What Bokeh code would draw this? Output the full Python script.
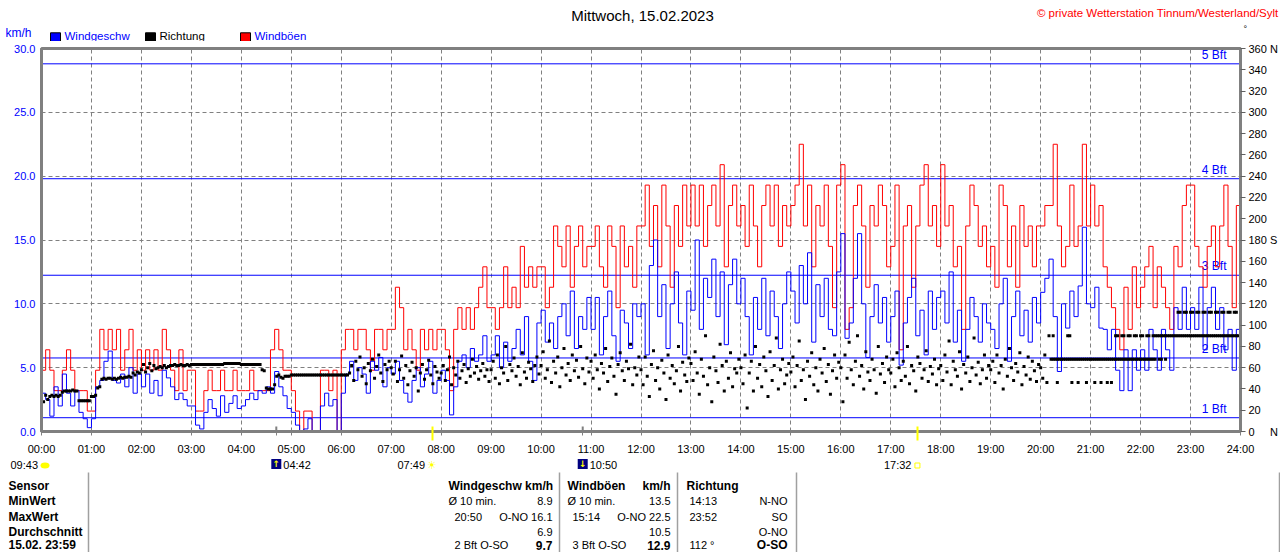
import numpy as np
from bokeh.plotting import figure
from bokeh.layouts import column
from bokeh.models import Range1d, LinearAxis, FixedTicker, Span, Label, NumeralTickFormatter
from bokeh.core.properties import value
from bokeh.embed import file_html
from bokeh.resources import INLINE

# ---------------- data ----------------
title_text = "Mittwoch, 15.02.2023"
copyright_text = "\u00a9 private Wetterstation Tinnum/Westerland/Sylt"

# wind speed (km/h), 5-minute samples, one row per hour 00..23
wind = [
    [3.0, 2.5, 1.2, 3.5, 2.0, 4.5, 3.0, 2.0, 3.2, 1.5, 1.0, 0.3],
    [1.0, 3.5, 4.0, 5.5, 6.3, 4.0, 3.8, 4.5, 3.5, 5.0, 3.0, 4.5],
    [3.5, 4.5, 3.0, 4.0, 2.8, 4.8, 4.2, 3.5, 2.5, 3.0, 2.5, 2.0],
    [2.0, 0.5, 0.2, 1.5, 2.5, 1.8, 1.2, 2.8, 1.5, 2.2, 2.8, 1.8],
    [2.0, 2.5, 3.0, 2.5, 3.2, 3.0, 3.5, 3.0, 4.7, 3.5, 2.8, 1.8],
    [1.5, 0.5, 0.0, 0.2, 1.0, 0.0, 0.0, 2.0, 3.0, 2.0, 2.5, 0.0],
    [3.0, 4.5, 5.5, 4.0, 5.0, 4.5, 3.0, 5.5, 4.8, 5.8, 3.5, 5.0],
    [4.5, 5.5, 4.0, 3.0, 2.3, 4.0, 5.0, 3.5, 4.5, 5.5, 3.0, 4.0],
    [4.8, 4.0, 1.3, 3.5, 5.5, 6.0, 5.0, 6.5, 5.5, 6.0, 7.5, 5.5],
    [6.0, 7.5, 5.0, 7.0, 5.5, 6.5, 8.0, 6.0, 9.0, 5.5, 4.0, 8.5],
    [9.5, 7.0, 8.5, 6.5, 9.0, 10.0, 7.5, 11.0, 6.5, 9.0, 8.0, 10.5],
    [8.0, 10.5, 6.0, 9.0, 11.0, 7.5, 5.5, 9.5, 8.5, 6.5, 10.0, 9.0],
    [10.0, 6.0, 13.0, 15.0, 9.0, 11.5, 6.5, 10.0, 12.5, 8.5, 6.0, 11.0],
    [9.5, 15.0, 8.0, 12.0, 10.5, 13.5, 9.0, 12.5, 6.8, 11.5, 13.5, 10.0],
    [12.0, 9.0, 6.0, 10.5, 8.0, 12.0, 7.5, 11.0, 9.0, 6.5, 10.0, 12.5],
    [11.0, 8.5, 13.0, 10.0, 14.0, 7.0, 11.5, 9.0, 12.0, 8.0, 7.5, 12.5],
    [15.5, 7.3, 8.5, 12.0, 15.5, 10.0, 5.8, 9.0, 11.5, 8.5, 10.5, 7.0],
    [9.0, 11.0, 5.2, 8.5, 10.5, 12.0, 7.5, 9.5, 6.0, 11.0, 8.0, 10.5],
    [11.0, 8.5, 12.5, 7.0, 9.5, 5.5, 8.0, 10.5, 9.0, 7.0, 10.0, 8.5],
    [8.0, 6.5, 10.0, 12.0, 5.5, 9.0, 11.0, 7.5, 9.5, 7.0, 10.5, 8.5],
    [10.9, 12.0, 13.5, 9.0, 4.7, 10.0, 8.1, 11.0, 9.0, 11.4, 16.0, 10.0],
    [9.7, 11.3, 8.1, 8.0, 6.4, 8.0, 4.8, 3.2, 6.4, 3.2, 6.4, 4.8],
    [6.4, 4.8, 8.0, 6.4, 4.8, 8.0, 6.4, 4.8, 9.7, 8.0, 11.3, 8.0],
    [9.7, 8.0, 11.3, 6.4, 9.7, 11.3, 8.0, 9.7, 6.4, 8.0, 4.8, 8.0],
]

# gusts (km/h), 5-minute samples, one row per hour 00..23
gust = [
    [4.8, 6.4, 4.8, 3.2, 3.2, 4.8, 6.4, 4.8, 3.2, 3.2, 3.2, 1.6],
    [1.6, 4.8, 8.0, 6.4, 8.0, 6.4, 8.0, 4.8, 6.4, 8.0, 4.8, 6.4],
    [4.8, 6.4, 4.8, 6.4, 4.8, 8.0, 6.4, 4.8, 3.2, 6.4, 3.2, 4.8],
    [4.8, 1.6, 1.6, 3.2, 4.8, 3.2, 3.2, 4.8, 3.2, 3.2, 4.8, 3.2],
    [3.2, 3.2, 4.8, 3.2, 3.2, 3.2, 3.2, 6.4, 8.0, 6.4, 4.8, 4.8],
    [3.2, 1.6, 0.0, 1.6, 1.6, 0.0, 0.0, 4.8, 4.8, 3.2, 4.8, 0.0],
    [6.4, 8.0, 8.0, 6.4, 8.0, 8.0, 6.4, 4.8, 8.0, 8.0, 6.4, 8.0],
    [8.0, 11.3, 9.7, 6.4, 8.0, 6.4, 4.8, 8.0, 6.4, 8.0, 6.4, 8.0],
    [8.0, 6.4, 3.2, 8.0, 9.7, 8.0, 9.7, 8.0, 9.7, 11.3, 12.9, 9.7],
    [9.7, 8.0, 9.7, 12.9, 9.7, 11.3, 9.7, 14.5, 11.3, 12.9, 11.3, 12.9],
    [12.9, 9.7, 11.3, 16.1, 14.5, 12.9, 16.1, 11.3, 14.5, 16.1, 12.9, 14.5],
    [14.5, 16.1, 12.9, 11.3, 16.1, 14.5, 9.7, 16.1, 12.9, 14.5, 11.3, 16.1],
    [16.1, 19.3, 14.5, 17.7, 12.9, 19.3, 16.1, 11.3, 17.7, 14.5, 19.3, 16.1],
    [19.3, 16.1, 19.3, 14.5, 17.7, 19.3, 16.1, 20.9, 12.9, 17.7, 19.3, 16.1],
    [17.7, 14.5, 19.3, 16.1, 12.9, 17.7, 19.3, 16.1, 19.3, 14.5, 17.7, 16.1],
    [17.7, 19.3, 22.5, 16.1, 19.3, 12.9, 17.7, 16.1, 19.3, 14.5, 9.7, 19.3],
    [20.9, 8.0, 9.7, 17.7, 19.3, 16.1, 11.3, 17.7, 16.1, 19.3, 17.7, 12.9],
    [14.5, 19.3, 6.4, 16.1, 17.7, 11.3, 16.1, 19.3, 20.9, 16.1, 17.7, 14.5],
    [20.9, 16.1, 17.7, 12.9, 14.5, 8.0, 16.1, 19.3, 17.7, 14.5, 16.1, 12.9],
    [14.5, 11.3, 19.3, 17.7, 12.9, 16.1, 11.3, 17.7, 14.5, 16.1, 12.9, 16.1],
    [16.1, 17.7, 17.7, 22.5, 16.1, 12.9, 14.5, 19.3, 14.5, 16.1, 22.5, 16.1],
    [19.3, 16.1, 17.7, 12.9, 11.3, 9.7, 8.0, 6.4, 11.3, 8.0, 12.9, 9.7],
    [11.3, 12.9, 14.5, 9.7, 12.9, 11.3, 9.7, 8.0, 14.5, 12.9, 17.7, 19.3],
    [19.3, 14.5, 12.9, 11.3, 14.5, 16.1, 12.9, 16.1, 19.3, 14.5, 9.7, 17.7],
]

# wind direction (degrees), 2.5-minute samples, one row per hour 00..23
direction = [
    [31, 28, 34, 30, 33, 34, 33, 34, 33, 34, 37, 38, 38, 38, 38, 39, 38, 38, 29, 29, 29, 29, 29, 29],
    [33, 33, 34, 41, 42, 49, 50, 49, 50, 50, 49, 50, 49, 50, 51, 50, 51, 51, 52, 51, 55, 53, 56, 55],
    [58, 63, 56, 60, 64, 57, 62, 59, 60, 61, 60, 62, 60, 61, 62, 62, 63, 62, 62, 63, 62, 62, 63, 62],
    [63, 63, 63, 63, 63, 63, 63, 63, 63, 63, 63, 63, 63, 63, 63, 63, 64, 64, 64, 64, 64, 64, 64, 64],
    [63, 63, 63, 63, 63, 63, 63, 63, 63, 63, 58, 57, 41, 40, 40, 40, 44, 52, 53, 51, 50, 52, 52, 52],
    [53, 53, 53, 53, 53, 53, 53, 53, 53, 53, 53, 53, 53, 53, 53, 53, 53, 53, 53, 53, 53, 53, 53, 53],
    [53, 53, 53, 53, 55, 62, 48, 66, 58, 70, 52, 60, 45, 64, 57, 68, 50, 61, 72, 55, 47, 63, 58, 66],
    [60, 54, 66, 47, 58, 71, 50, 62, 44, 57, 65, 52, 60, 38, 55, 63, 49, 58, 67, 53, 45, 61, 56, 50],
    [55, 62, 48, 58, 70, 44, 60, 53, 66, 50, 57, 63, 46, 59, 52, 68, 55, 61, 49, 57, 64, 52, 58, 47],
    [58, 66, 50, 72, 45, 60, 55, 80, 48, 63, 57, 69, 52, 61, 44, 74, 56, 50, 65, 59, 47, 62, 70, 54],
    [62, 75, 50, 58, 85, 46, 66, 55, 70, 42, 60, 78, 53, 64, 48, 72, 57, 67, 51, 80, 59, 45, 69, 56],
    [66, 50, 72, 58, 40, 64, 55, 78, 47, 61, 69, 52, 35, 63, 74, 57, 48, 66, 59, 82, 44, 60, 53, 70],
    [58, 44, 70, 52, 33, 63, 76, 48, 60, 40, 67, 55, 30, 72, 50, 62, 45, 57, 80, 38, 65, 53, 47, 69],
    [64, 48, 75, 55, 35, 68, 52, 90, 44, 60, 28, 70, 57, 46, 82, 62, 38, 66, 50, 74, 42, 59, 55, 68],
    [60, 45, 72, 22, 55, 66, 38, 80, 50, 63, 42, 70, 57, 33, 75, 48, 62, 88, 40, 58, 68, 45, 53, 64],
    [56, 70, 42, 62, 85, 48, 58, 30, 66, 52, 74, 44, 60, 38, 68, 55, 78, 47, 63, 35, 57, 72, 50, 65],
    [60, 28, 72, 50, 84, 58, 44, 66, 90, 52, 62, 40, 75, 56, 48, 68, 58, 36, 80, 54, 64, 46, 70, 58],
    [55, 68, 42, 74, 60, 48, 66, 52, 80, 45, 62, 57, 38, 70, 64, 50, 58, 76, 47, 61, 54, 68, 44, 59],
    [62, 48, 72, 56, 85, 44, 66, 58, 52, 75, 40, 63, 55, 70, 47, 60, 88, 53, 65, 45, 58, 72, 50, 62],
    [58, 66, 46, 72, 55, 62, 40, 68, 52, 78, 60, 48, 64, 56, 74, 44, 61, 53, 70, 49, 66, 57, 47, 63],
    [60, 50, 72, 46, 90, 68, 68, 68, 68, 68, 68, 68, 68, 68, 68, 68, 68, 68, 68, 68, 68, 68, 68, 68],
    [68, 68, 68, 68, 68, 68, 68, 68, 68, 68, 68, 68, 68, 68, 68, 68, 68, 68, 68, 68, 68, 68, 68, 68],
    [68, 68, 68, 68, 68, 68, 90, 90, 90, 90, 90, 90, 90, 90, 90, 90, 90, 90, 90, 90, 90, 90, 90, 90],
    [90, 90, 90, 90, 90, 90, 90, 90, 90, 90, 90, 90, 90, 90, 90, 90, 90, 90, 90, 90, 90, 90, 90, 90],
]

# additional direction readings 20:00-24:00 (2.5-minute slots, None = no reading)
N = None
direction_late = [
    [N, N, N, N, N, N, 90, N, 46, N, N, N, N, 90, 90, 46, N, N, 46, N, N, N, 46, N],
    [N, N, 46, N, N, 46, N, N, 46, N, 46, N, 90, 90, N, 90, 90, N, 90, 90, N, 90, 90, N],
    [90, 90, N, 90, 90, N, 68, 68, N, 68, 68, N, 68, N, N, N, N, N, 112, 112, N, 112, 112, N],
    [112, 112, N, 112, 112, N, 112, 112, N, 112, 112, N, 112, 112, N, 112, 112, N, 112, 112, N, 112, 112, N],
]
direction_late_start = 20  # hour

bft_levels = [1.08, 5.76, 12.24, 19.8, 28.8]
bft_labels = ["1 Bft", "2 Bft", "3 Bft", "4 Bft", "5 Bft"]

hour_ticks = list(range(25))
hour_labels = ["00:00", "01:00", "02:00", "03:00", "04:00", "05:00", "06:00", "07:00",
               "08:00", "09:00", "10:00", "11:00", "12:00", "13:00", "14:00", "15:00",
               "16:00", "17:00", "18:00", "19:00", "20:00", "21:00", "22:00", "23:00", "24:00"]
speed_ticks = [0, 5, 10, 15, 20, 25, 30]
dir_ticks = list(range(0, 361, 20))
dir_label_overrides = {360: "360 N", 180: "180 S", 0: "0\u00a0\u00a0\u00a0\u00a0\u00a0N"}

moon_events = ["04:42", "10:50"]      # moonrise, moonset
moon_kinds = ["rise", "set"]
sun_events = ["07:49", "17:32"]       # sunrise, sunset
prev_moonset = "09:43"

table_rows = ["Sensor", "MinWert", "MaxWert", "Durchschnitt", "15.02. 23:59"]
wind_stats = [("\u00d8 10 min.", "8.9"), ("20:50", "O-NO 16.1"), ("", "6.9"), ("2 Bft O-SO", "9.7")]
gust_stats = [("\u00d8 10 min.", "13.5"), ("15:14", "O-NO 22.5"), ("", "10.5"), ("3 Bft O-SO", "12.9")]
dir_stats = [("14:13", "N-NO"), ("23:52", "SO"), ("", "O-NO"), ("112 \u00b0", "O-SO")]

# ---------------- layout constants (pixels) ----------------
W = 1280
HEAD_H, MAIN_H = 41, 416
FOOT_H = 552 - HEAD_H - MAIN_H
FL, FR, FT, FB = 41, 1240, 48, 438   # chart frame edges on the page
BLUE, RED, BLACK, GRAY, YEL = "#0000ff", "#ff0000", "#000000", "#808080", "#ffff00"
SANS = "Liberation Sans"
ICON_FONT = "DejaVu Sans"


def hx(xp):
    """page pixel x -> hours"""
    return (xp - FL) / (FR - FL) * 24.0


def to_hours(s):
    h, m = s.split(":")
    return int(h) + int(m) / 60.0


def blank_fig(height, y_top, y_bot):
    f = figure(width=W, height=height, x_range=Range1d(hx(0), hx(W)),
               y_range=Range1d(y_bot, y_top), output_backend="svg", toolbar_location=None,
               min_border_left=0, min_border_right=0, min_border_top=0, min_border_bottom=0,
               outline_line_color=None, background_fill_color="white",
               border_fill_color="white", frame_align=False)
    f.axis.visible = False
    f.grid.visible = False
    return f


def put(f, xh, yp, s, color=BLACK, size="11px", font=SANS, align="left", style="normal",
        xoff=0):
    f.text(x=[xh], y=[yp], text=[s], text_color=color, text_font_size=size,
           text_font=value(font), text_align=align, text_baseline="middle",
           text_font_style=style, x_offset=xoff)


# ---------------- header ----------------
head = blank_fig(HEAD_H, 0, HEAD_H)
put(head, hx(642), 15, title_text, size="15px", align="center")
put(head, hx(1278), 12, copyright_text, color=RED, size="11.5px", align="right")
put(head, hx(5), 32, "km/h", color=BLUE, size="12px")
put(head, hx(1243), 28, "\u00b0", size="9px")
legend_names = ["Windgeschw", "Richtung", "Windb\u00f6en"]
legend_fill = [BLUE, BLACK, RED]
legend_text = [BLUE, BLACK, BLUE]
legend_x = [50, 145, 240]
head.rect(x=[hx(v + 5) for v in legend_x], y=[36.8] * 3, width=10, height=9,
          width_units="screen", height_units="screen",
          fill_color=legend_fill, line_color=BLACK, line_width=1)
for nm, tc, x0 in zip(legend_names, legend_text, legend_x):
    put(head, hx(x0 + 14), 35.5, nm, color=tc, size="11.5px")

# ---------------- main chart ----------------
p = figure(width=W, height=MAIN_H, x_range=Range1d(0, 24), y_range=Range1d(0, 30),
           output_backend="svg", toolbar_location=None,
           min_border_left=FL, min_border_right=W - FR,
           min_border_top=FT - HEAD_H, min_border_bottom=MAIN_H - (FB - HEAD_H),
           outline_line_color=GRAY, outline_line_width=3,
           background_fill_color="white", border_fill_color="white")

moon_t = [to_hours(s) for s in moon_events]
sun_t = [to_hours(s) for s in sun_events]

p.xaxis.ticker = FixedTicker(ticks=hour_ticks + moon_t, minor_ticks=sun_t)
ovr = {t: l for t, l in zip(hour_ticks, hour_labels)}
for t in moon_t:
    ovr[t] = ""
p.xaxis.major_label_overrides = ovr
p.xaxis.axis_line_color = GRAY
p.xaxis.axis_line_width = 3
p.xaxis.major_tick_line_color = GRAY
p.xaxis.major_tick_line_width = 1
p.xaxis.major_tick_out = 4
p.xaxis.major_tick_in = 0
p.xaxis.minor_tick_line_color = YEL
p.xaxis.minor_tick_line_width = 2
p.xaxis.minor_tick_in = 5
p.xaxis.minor_tick_out = 9
p.xaxis.major_label_standoff = 2
p.xaxis.major_label_text_font = SANS
p.xaxis.major_label_text_font_size = "11px"
p.xaxis.major_label_text_color = BLACK

p.yaxis.ticker = FixedTicker(ticks=speed_ticks)
p.yaxis.formatter = NumeralTickFormatter(format="0.0")
p.yaxis.axis_line_color = GRAY
p.yaxis.axis_line_width = 3
p.yaxis.major_tick_out = 0
p.yaxis.major_tick_in = 0
p.yaxis.minor_tick_line_color = None
p.yaxis.major_label_standoff = 6
p.yaxis.major_label_text_font = SANS
p.yaxis.major_label_text_font_size = "11px"
p.yaxis.major_label_text_color = BLUE

p.extra_y_ranges = {"dir": Range1d(0, 360)}
rax = LinearAxis(y_range_name="dir", ticker=FixedTicker(ticks=dir_ticks),
                 major_label_overrides=dir_label_overrides,
                 axis_line_color=GRAY, axis_line_width=3,
                 major_tick_line_color="#606060", major_tick_out=5, major_tick_in=0,
                 minor_tick_line_color=None, major_label_standoff=3,
                 major_label_text_font=SANS, major_label_text_font_size="11px",
                 major_label_text_color=BLACK)
p.add_layout(rax, "right")

p.xgrid.ticker = FixedTicker(ticks=hour_ticks)
for g in (p.xgrid, p.ygrid):
    g.grid_line_color = GRAY
    g.grid_line_dash = "4 3"
    g.grid_line_width = 1

for lv, lb in zip(bft_levels, bft_labels):
    p.add_layout(Span(location=lv, dimension="width", line_color=BLUE, line_width=1,
                      level="underlay"))
    p.add_layout(Label(x=24, y=lv, x_offset=-14, y_offset=9, text=lb, text_align="right",
                       text_baseline="middle", text_color=BLUE, text_font=SANS,
                       text_font_size="12px", level="underlay"))

wind_v = np.array(wind, dtype=float).ravel()
gust_v = np.array(gust, dtype=float).ravel()
t5 = np.arange(wind_v.size) * 24.0 / wind_v.size
t5e = np.append(t5, 24.0)
p.step(t5e, np.append(gust_v, gust_v[-1]), mode="after", line_color=RED, line_width=1)
p.step(t5e, np.append(wind_v, wind_v[-1]), mode="after", line_color=BLUE, line_width=1)

dir_v = np.array(direction, dtype=float).ravel()
t_dir = np.arange(dir_v.size) * 24.0 / dir_v.size
p.scatter(t_dir, dir_v, y_range_name="dir", marker="square", size=3,
          fill_color=BLACK, line_color=None)
late_v = np.array(direction_late, dtype=float).ravel()
t_late = direction_late_start + np.arange(late_v.size) * (24.0 - direction_late_start) / late_v.size
p.scatter(t_late, late_v, y_range_name="dir", marker="square", size=3,
          fill_color=BLACK, line_color=None)

# in-frame part of the moon event ticks
p.segment(x0=moon_t, y0=[0, 0], x1=moon_t, y1=[0.4, 0.4], line_color=GRAY, line_width=2)

# ---------------- footer (events + statistics table) ----------------
y0f = HEAD_H + MAIN_H
foot = blank_fig(FOOT_H, y0f, y0f + FOOT_H)

put(foot, hx(10), 464.5, prev_moonset)
foot.ellipse(x=[hx(44.5)], y=[465], width=9, height=6, width_units="screen",
             height_units="screen", fill_color=YEL, line_color=None)
for t, kind, s in zip(moon_t, moon_kinds, moon_events):
    foot.rect(x=[t], y=[463.5], width=10, height=10, width_units="screen",
              height_units="screen", fill_color="#000080", line_color=None)
    put(foot, t, 463.5, "\u2191" if kind == "rise" else "\u2193", color=YEL, size="9px",
        font=ICON_FONT, align="center", style="bold")
    put(foot, t, 464.5, s, xoff=7)
for t, s, i in zip(sun_t, sun_events, range(2)):
    if i == 0:
        put(foot, t, 464.5, "\u2600", color=YEL, size="11px", font=ICON_FONT, align="center")
        put(foot, t, 464.5, s, align="right", xoff=-7)
    else:
        foot.rect(x=[t], y=[465], width=5, height=5, width_units="screen",
                  height_units="screen", fill_color=None, line_color=YEL, line_width=1)
        put(foot, t, 464.5, s, align="right", xoff=-6)

sep_x = [88, 559, 677, 796, 1279]
foot.segment(x0=[hx(v) for v in sep_x], y0=[472] * 5, x1=[hx(v) for v in sep_x],
             y1=[560] * 5, line_color="#a0a0a0", line_width=1.5)

row_y = [485, 500.5, 516, 531, 544.5]
for yy, name in zip(row_y, table_rows):
    put(foot, hx(8), yy, name, size="12px", style="bold")

put(foot, hx(448), row_y[0], "Windgeschw km/h", size="12px", style="bold")
put(foot, hx(567), row_y[0], "Windb\u00f6en", size="12px", style="bold")
put(foot, hx(670), row_y[0], "km/h", size="12px", style="bold", align="right")
put(foot, hx(686), row_y[0], "Richtung", size="12px", style="bold")

for i, yy in enumerate(row_y[1:]):
    last = i == 3
    vstyle = "bold" if last else "normal"
    vsize = "12px" if last else "11px"
    wl, wv = wind_stats[i]
    gl, gv = gust_stats[i]
    dl, dv = dir_stats[i]
    put(foot, hx(448 if i == 0 else 454), yy, wl)
    put(foot, hx(552), yy, wv, align="right", size=vsize, style=vstyle)
    put(foot, hx(567 if i == 0 else 572), yy, gl)
    put(foot, hx(670), yy, gv, align="right", size=vsize, style=vstyle)
    put(foot, hx(689), yy, dl)
    put(foot, hx(787), yy, dv, align="right", size=vsize, style=vstyle)

layout = column(head, p, foot)
open("out.html", "w").write(file_html(layout, INLINE))
